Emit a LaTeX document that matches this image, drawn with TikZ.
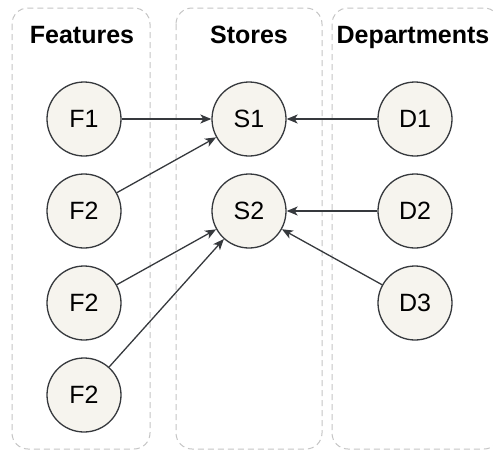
\documentclass[tikz,border=0pt]{standalone}
\usepackage{fontspec}
\setmainfont{Liberation Sans}
\usetikzlibrary{arrows.meta}
\definecolor{nodefill}{HTML}{F6F4EE}
\definecolor{nodeline}{HTML}{36393D}
\definecolor{groupline}{HTML}{C4C4C4}
\tikzset{
  entity/.style={circle, draw=nodeline, line width=1.3pt, fill=nodefill,
    minimum size=74pt, inner sep=0pt, font=\fontsize{25}{29}\selectfont},
  group/.style={draw=groupline, line width=1pt, dash pattern=on 6pt off 4pt,
    rounded corners=16pt},
  title/.style={font=\fontsize{25}{29}\selectfont\bfseries, inner sep=0pt,
    anchor=base},
  link/.style={draw=nodeline, line width=1.3pt,
    -{Stealth[length=11pt,width=9pt,inset=3pt]}},
}
\begin{document}
\begin{tikzpicture}[x=1pt,y=-1pt]
  \useasboundingbox (0,0) rectangle (493,450);
  \begin{scope}
    \clip (0,0) rectangle (493,450);
    % column frames
    \draw[group] (12,8) rectangle (150,449);
    \draw[group] (176,8) rectangle (322,449);
    \draw[group] (332,8) rectangle (500,449);
  \end{scope}

  % column headings
  \node[title] (tf) at (82,43.5) {Features};
  \node[title] (ts) at (249,43.5) {Stores};
  \node[title] (td) at (413,43.5) {Departments};

  % features
  \node[entity] (f1) at (84,119) {F1};
  \node[entity] (f2) at (84,211) {F2};
  \node[entity] (f3) at (84,303) {F2};
  \node[entity] (f4) at (84,395) {F2};

  % stores
  \node[entity] (s1) at (249,119) {S1};
  \node[entity] (s2) at (249,211) {S2};

  % departments
  \node[entity] (d1) at (415,119) {D1};
  \node[entity] (d2) at (415,211) {D2};
  \node[entity] (d3) at (415,303) {D3};

  % relations
  \draw[link] (f1) -- (s1);
  \draw[link] (f2) -- (s1);
  \draw[link] (f3) -- (s2);
  \draw[link] (f4) -- (s2);
  \draw[link] (d1) -- (s1);
  \draw[link] (d2) -- (s2);
  \draw[link] (d3) -- (s2);
\end{tikzpicture}
\end{document}
